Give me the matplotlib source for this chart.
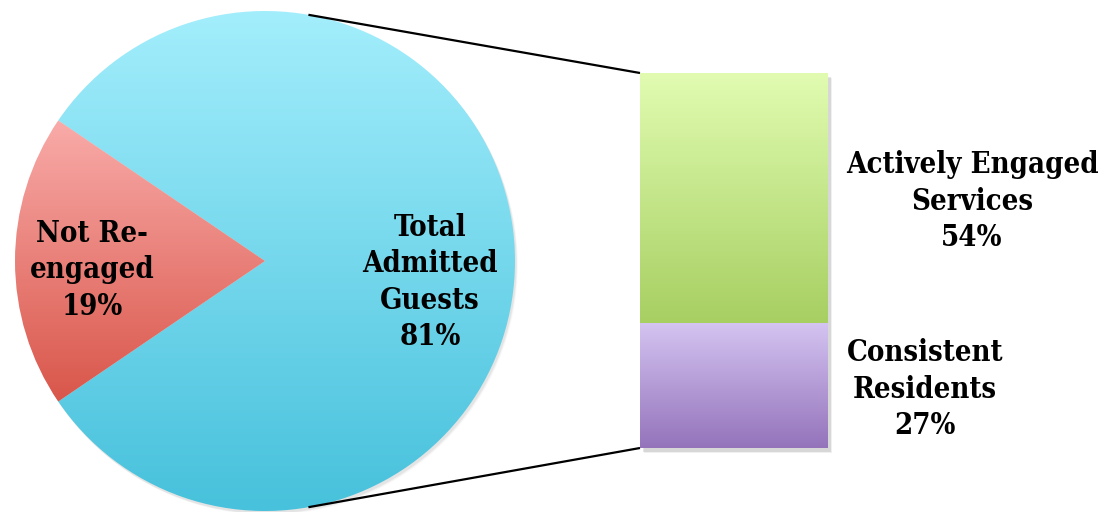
import numpy as np
import matplotlib
matplotlib.use("Agg")
import matplotlib.pyplot as plt
from matplotlib.patches import Wedge, Rectangle, Circle
from matplotlib.colors import LinearSegmentedColormap

# pie part: the detached slice and the aggregated slice that gets broken out
pie_labels = ["Not Re-\nengaged", "Total\nAdmitted\nGuests"]
pie_values = [19, 81]
# bar part: breakdown of the aggregated slice, bottom to top
bar_labels = ["Consistent\nResidents", "Actively Engaged\nServices"]
bar_values = [27, 54]

W, H = 1108, 512
fig = plt.figure(figsize=(W / 100, H / 100), dpi=100)
ax = fig.add_axes([0, 0, 1, 1])
ax.set_xlim(0, W); ax.set_ylim(0, H); ax.set_aspect("equal"); ax.axis("off")

FONT = dict(family="DejaVu Serif", fontweight="bold", fontstretch="condensed",
            color="black", ha="center", va="center", linespacing=1.32)
FS = 21

def grad(c_top, c_bot):
    return LinearSegmentedColormap.from_list("g", [c_bot, c_top])

def fill_gradient(patch, extent, c_top, c_bot, z=2):
    ax.add_patch(patch)
    g = np.linspace(0, 1, 256).reshape(-1, 1)
    im = ax.imshow(g, cmap=grad(c_top, c_bot), origin="lower", extent=extent,
                   aspect="auto", zorder=z, interpolation="bilinear")
    im.set_clip_path(patch)

def shadow(make, dx=2, dy=-3, alphas=(0.025, 0.035, 0.045, 0.06)):
    for k, a in zip(range(4, 0, -1), alphas):
        p = make(dx + k * 0.5, dy - k * 0.5)
        p.set_facecolor("#000000"); p.set_alpha(a); p.set_edgecolor("none"); p.set_zorder(1)
        ax.add_patch(p)

# ---- pie --------------------------------------------------------------
cx, cy, r = 265, 251, 250
half = pie_values[0] / sum(pie_values) * 360 / 2
a0, a1 = 180 - half, 180 + half

shadow(lambda dx, dy: Circle((cx + dx, cy + dy), r), dx=1, dy=-2,
       alphas=(0.015, 0.02, 0.03, 0.04))

big = Wedge((cx, cy), r, a1 - 360, a0, facecolor="none", edgecolor="none")
fill_gradient(big, [cx - r, cx + r, cy - r, cy + r], "#a3eefc", "#47c1dc")

ytop = cy + r * np.sin(np.radians(a0))
ybot = cy + r * np.sin(np.radians(a1))
small = Wedge((cx, cy), r, a0, a1, facecolor="none", edgecolor="none")
fill_gradient(small, [cx - r, cx, ybot, ytop], "#f9aba9", "#d9564a")

ax.text(92, 242, f"{pie_labels[0]}\n{pie_values[0]}%", fontsize=FS, zorder=5, **FONT)
ax.text(430, 230, f"{pie_labels[1]}\n{pie_values[1]}%", fontsize=FS, zorder=5, **FONT)

# ---- bar of the 81% slice --------------------------------------------
bx, bw, by, bh = 640, 188, 64, 375
scale = bh / sum(bar_values)

shadow(lambda dx, dy: Rectangle((bx + dx, by + dy), bw, bh))

bar_cols = [("#d4c4f1", "#9473bb"), ("#e1fcb1", "#a7cf62")]
y0 = by
for v, (ct, cb) in zip(bar_values, bar_cols):
    h = v * scale
    rect = Rectangle((bx, y0), bw, h, facecolor="none", edgecolor="none")
    fill_gradient(rect, [bx, bx + bw, y0, y0 + h], ct, cb)
    y0 += h

ax.text(925, 123, f"{bar_labels[0]}\n{bar_values[0]}%", fontsize=FS, zorder=5, **FONT)
ax.text(972, 311, f"{bar_labels[1]}\n{bar_values[1]}%", fontsize=FS, zorder=5, **FONT)

# ---- connector lines ---------------------------------------------------
for ang, yb in [(80, by + bh), (-80, by)]:
    px = cx + r * np.cos(np.radians(ang)); py = cy + r * np.sin(np.radians(ang))
    ax.plot([px, bx], [py, yb], color="black", lw=1.6, zorder=4, solid_capstyle="butt")

fig.savefig("out.png", dpi=100, facecolor="white")
